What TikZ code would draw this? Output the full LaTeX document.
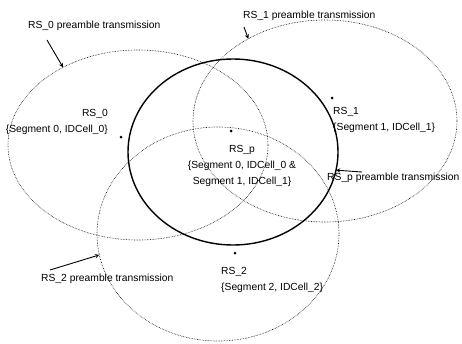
\documentclass[tikz,border=0pt]{standalone}
\usepackage{fontspec}
\setmainfont{Liberation Sans}
\usetikzlibrary{shapes.geometric,arrows}
\tikzstyle{coverage} = [ellipse, 
draw=black, 
densely dotted, 
line width=0.6pt, 
inner sep=0pt, 
outer sep=0pt]
\tikzstyle{serving} = [ellipse, 
draw=black, 
line width=1.4pt, 
inner sep=0pt, 
outer sep=0pt]
\tikzstyle{station} = [circle, 
fill=black, 
inner sep=0pt, 
minimum size=3pt]
\tikzstyle{info} = [inner sep=0pt, 
font=\fontsize{10.3}{16}\selectfont]
\tikzstyle{arrow} = [line width=0.9pt,->,>=stealth]

\begin{document}
\begin{tikzpicture}[x=1pt,y=-1pt]
                \useasboundingbox (0,0) rectangle (462,343);
                % preamble coverage of each station
                \node[coverage, minimum width=260pt, minimum height=190pt] (cov0) at (138,145) {};
                \node[coverage, minimum width=264pt, minimum height=202pt] (cov1) at (325,121) {};
                \node[coverage, minimum width=242pt, minimum height=214pt] (cov2) at (218,234) {};
                \node[serving, minimum width=210pt, minimum height=186pt] (covP) at (233,152) {};

                \node[station] (rs0) at (121,137) {};
                \node[station] (rsP) at (231,131) {};
                \node[station] (rs1) at (332,98) {};
                \node[station] (rs2) at (235,253) {};

                \node[info, align=right, anchor=east] (rs0Txt) at (108,122) {RS\_0\\\{Segment 0, IDCell\_0\}};
                \node[info, align=center] (rsPTxt) at (242,166) {RS\_p\\\{Segment 0, IDCell\_0 \&\\Segment 1, IDCell\_1\}};
                \node[info, align=left, anchor=west] (rs1Txt) at (333,120) {RS\_1\\\{Segment 1, IDCell\_1\}};
                \node[info, align=left, anchor=west] (rs2Txt) at (221,280) {RS\_2\\\{Segment 2, IDCell\_2\}};

                \node[info, anchor=west] (pre0) at (28,26) {RS\_0 preamble transmission};
                \node[info, anchor=west] (pre1) at (243,16) {RS\_1 preamble transmission};
                \node[info, anchor=west] (preP) at (327,178) {RS\_p preamble transmission};
                \node[info, anchor=west] (pre2) at (41,279) {RS\_2 preamble transmission};

                \coordinate (tail0) at (47,40);
                \coordinate (tail1) at (244,27);
                \coordinate (tailP) at (362,172);
                \coordinate (tail2) at (50,270);

                \draw[arrow] (tail0) -- (cov0.134);
                \draw[arrow] (tail1) -- (cov1.133);
                \draw[arrow] (tailP) -- (covP.-10);
                \draw[arrow] (tail2) -- (cov2.190);
            \end{tikzpicture}
\end{document}
